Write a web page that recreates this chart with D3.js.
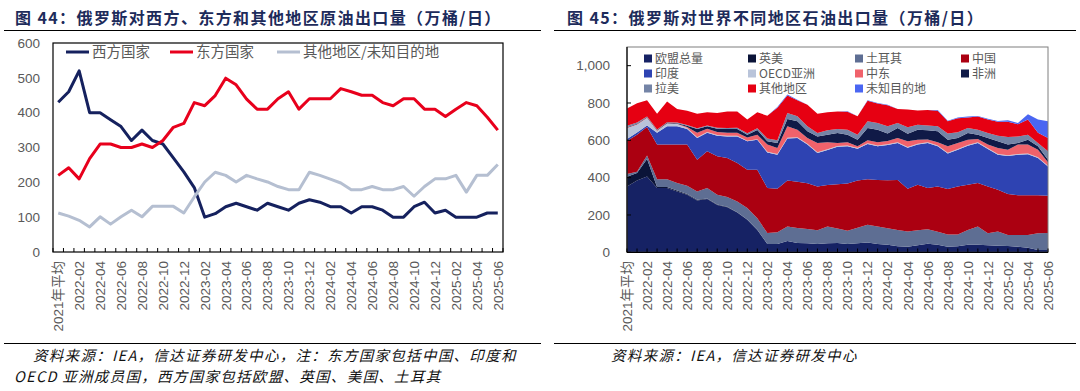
<!DOCTYPE html>
<html>
<head>
<meta charset="utf-8">
<script src="https://cdn.jsdelivr.net/npm/d3@7"></script>
<style>
  body { margin: 0; background: #fff; }
  svg text { font-family: "Liberation Sans", "Noto Sans CJK SC", sans-serif; }
</style>
</head>
<body>
<script>
// x categories (same for both charts)
const months = ["2021年平均",
  "2022-01","2022-02","2022-03","2022-04","2022-05","2022-06","2022-07","2022-08","2022-09","2022-10","2022-11","2022-12",
  "2023-01","2023-02","2023-03","2023-04","2023-05","2023-06","2023-07","2023-08","2023-09","2023-10","2023-11","2023-12",
  "2024-01","2024-02","2024-03","2024-04","2024-05","2024-06","2024-07","2024-08","2024-09","2024-10","2024-11","2024-12",
  "2025-01","2025-02","2025-03","2025-04","2025-05","2025-06"];

// chart 44: crude exports by direction
const west  = [430,460,520,400,400,380,360,320,350,320,310,270,230,185,100,110,130,140,130,120,140,130,120,140,150,143,130,130,112,130,130,120,100,100,130,143,112,120,100,100,100,112,112];
const east  = [220,242,210,268,310,310,300,300,310,300,320,358,369,429,420,449,499,480,439,410,410,440,460,410,440,440,440,469,460,450,450,429,420,440,440,410,410,389,410,429,420,387,350];
const other = [112,103,91,72,101,80,101,120,101,131,131,131,112,158,201,229,220,201,220,210,201,188,179,179,229,220,209,198,179,179,188,179,179,188,160,188,210,210,220,172,220,220,251];

// chart 45: oil exports by region (stacked, bottom to top)
const eu      = [353,385,406,345,344,326,308,278,285,254,242,213,174,120,45,45,60,50,48,45,48,50,45,48,52,45,40,32,30,38,46,40,30,32,40,40,38,35,34,30,25,12,12];
const ukus    = [52,40,94,5,6,5,4,3,3,2,2,2,2,1,0,0,0,0,0,0,0,0,0,0,0,0,0,0,0,0,0,0,0,0,0,0,0,0,0,0,0,0,0];
const turkey  = [15,7,18,42,42,40,44,45,56,52,52,57,61,62,58,63,78,80,77,73,90,78,71,84,95,93,89,88,81,80,78,70,65,63,80,98,64,76,59,63,68,90,92];
const china   = [177,198,153,185,185,206,221,170,197,206,209,206,205,259,242,232,247,248,245,234,222,237,252,253,245,250,257,268,229,244,220,243,244,258,242,233,251,224,220,213,213,204,199];
const india   = [10,12,9,63,98,98,83,116,99,111,116,143,153,161,190,183,225,234,207,180,188,200,200,170,188,180,189,198,220,215,242,215,191,197,209,215,200,188,203,217,220,199,157];
const oecdAsia= [58,42,40,10,15,12,6,4,4,3,3,3,3,3,4,4,4,4,4,4,4,4,4,4,4,4,4,4,4,4,4,4,4,4,4,4,4,4,4,4,4,4,4];
const mideast = [2,2,2,2,2,2,6,24,18,17,16,16,17,24,38,32,61,41,31,50,37,17,17,9,16,18,18,22,31,22,15,17,34,32,28,17,20,32,30,50,47,41,18];
const africa  = [3,3,3,3,3,3,6,20,14,17,20,20,15,25,18,27,39,45,36,35,41,53,41,35,66,67,39,54,40,54,49,59,35,26,36,23,35,36,27,9,26,18,14];
const latam   = [8,6,3,3,2,3,4,5,4,5,6,8,8,10,15,14,33,27,27,18,24,22,27,27,36,36,39,27,35,27,25,27,33,31,27,27,27,30,41,35,27,18,45];
const others  = [92,103,87,85,111,73,77,78,70,80,89,87,73,85,122,175,93,86,116,104,96,93,96,99,110,104,113,75,95,76,83,83,66,75,56,70,73,75,82,65,82,54,71];
const unknown = [0,0,0,0,0,0,0,0,0,0,0,0,0,0,0,4,5,3,0,0,0,0,3,0,3,3,3,0,0,0,0,5,3,4,5,3,4,3,8,7,28,72,90];

const leftLegend = ["西方国家","东方国家","其他地区/未知目的地"];
const rightKeys  = ["欧盟总量","英美","土耳其","中国","印度","OECD亚洲","中东","非洲","拉美","其他地区","未知目的地"];
const rightColors= ["#162264","#0b1438","#5e6e93","#ab0011","#2e43b2","#b9c4da","#f0626b","#101a47","#7484a6","#e60012","#4a66f2"];

let grey = "#595959";

let viz = d3.select("body").append("svg")
    .attr("width", 1080)
    .attr("height", 391);

// titles + rules
function title(x, txt){
  viz.append("text")
     .attr("x", x).attr("y", 24)
     .attr("font-size", 16).attr("font-weight", "bold")
     .attr("letter-spacing", 1.4)
     .style("font-family", "'Noto Sans CJK SC', sans-serif")
     .attr("fill", "#1d2b5b")
     .text(txt);
}
title(15, "图 44：俄罗斯对西方、东方和其他地区原油出口量（万桶/日）");
title(567, "图 45：俄罗斯对世界不同地区石油出口量（万桶/日）");

function rule(x1, x2, y){
  viz.append("line").attr("x1", x1).attr("x2", x2).attr("y1", y).attr("y2", y)
     .attr("stroke", "#000").attr("stroke-width", 1.2);
}
rule(4, 541, 30.5); rule(554, 1076, 30.5);
rule(4, 541, 343.5); rule(554, 1076, 343.5);

// sources
function source(x, y, txt){
  viz.append("text").attr("x", x).attr("y", y)
     .attr("font-size", 14.5).attr("font-style", "italic")
     .attr("letter-spacing", 1.3)
     .style("font-family", "'Noto Sans CJK SC', sans-serif")
     .attr("fill", "#111").text(txt);
}
source(33, 361, "资料来源：IEA，信达证券研发中心，注：东方国家包括中国、印度和");
source(14, 382, "OECD 亚洲成员国，西方国家包括欧盟、英国、美国、土耳其");
source(611, 361, "资料来源：IEA，信达证券研发中心");

// ---------- left chart ----------
let xL = d3.scaleBand().domain(months).range([53, 503]);
let yL = d3.scaleLinear().domain([0, 600]).range([252, 43]);
let left = viz.append("g");

left.append("rect").attr("x", 53).attr("y", 43).attr("width", 450).attr("height", 209)
    .attr("fill", "none").attr("stroke", "#000").attr("stroke-width", 1.2);

// tick marks at category boundaries
let bounds = months.map(m => xL(m)).concat([503]);
left.selectAll(".tkL").data(bounds).enter().append("line")
    .attr("x1", d => d).attr("x2", d => d).attr("y1", 252).attr("y2", 248)
    .attr("stroke", "#000");

left.selectAll(".ylab").data(yL.ticks(6)).enter().append("text")
    .attr("x", 40).attr("y", d => yL(d)).attr("dy", "0.35em")
    .attr("text-anchor", "end").attr("font-size", 13.5).attr("fill", grey)
    .text(d => d);

left.selectAll(".xlab").data(months.filter((m, i) => i % 2 == 0)).enter().append("text")
    .attr("transform", d => "translate(" + (xL(d) + xL.bandwidth()/2) + ",261) rotate(-90)")
    .attr("dy", "0.36em").attr("text-anchor", "end")
    .attr("font-size", 13.5).attr("fill", grey)
    .text(d => d);

let lineL = d3.line()
    .x((d, i) => xL(months[i]) + xL.bandwidth()/2)
    .y(d => yL(d));

let leftSeries = [west, east, other];
let leftColors = ["#15215e", "#e8001c", "#b5bfd1"];
leftSeries.forEach(function(s, k){
  left.append("path").attr("d", lineL(s))
      .attr("fill", "none").attr("stroke", leftColors[k])
      .attr("stroke-width", 3).attr("stroke-linejoin", "round");
});

// legend
let legX = [66, 170, 277];
leftLegend.forEach(function(name, k){
  left.append("line").attr("x1", legX[k]).attr("x2", legX[k] + 23)
      .attr("y1", 52).attr("y2", 52)
      .attr("stroke", leftColors[k]).attr("stroke-width", 3);
  left.append("text").attr("x", legX[k] + 26).attr("y", 52).attr("dy", "0.35em")
      .attr("font-size", 14.5).attr("fill", grey)
      .style("font-family", "'Noto Sans CJK SC', sans-serif")
      .text(name);
});

// ---------- right chart ----------
let xR = d3.scalePoint().domain(months).range([627, 1048]);
let yR = d3.scaleLinear().domain([0, 1100]).range([252.3, 47]);
let right = viz.append("g");

let rightSeries = [eu, ukus, turkey, china, india, oecdAsia, mideast, africa, latam, others, unknown];
let table = months.map(function(m, i){
  let row = {month: m};
  rightKeys.forEach((k, j) => row[k] = rightSeries[j][i]);
  return row;
});
let stacked = d3.stack().keys(rightKeys)(table);

let area = d3.area()
    .x(d => xR(d.data.month))
    .y0(d => yR(d[0]))
    .y1(d => yR(d[1]));

right.selectAll(".layer").data(stacked).enter().append("path")
    .attr("d", area)
    .attr("fill", (d, i) => rightColors[i]);

right.append("rect").attr("x", 627).attr("y", 47).attr("width", 421).attr("height", 205.3)
    .attr("fill", "none").attr("stroke", "#7f7f7f").attr("stroke-width", 1);
right.append("line").attr("x1", 627).attr("x2", 627).attr("y1", 47).attr("y2", 252.3)
    .attr("stroke", "#000").attr("stroke-width", 1.2);
right.append("line").attr("x1", 627).attr("x2", 1048).attr("y1", 252.3).attr("y2", 252.3)
    .attr("stroke", "#000").attr("stroke-width", 1.2);

right.selectAll(".tkR").data(months).enter().append("line")
    .attr("x1", d => xR(d)).attr("x2", d => xR(d)).attr("y1", 252.3).attr("y2", 248.5)
    .attr("stroke", "#000");

let yTicks = d3.range(0, 1001, 200);
right.selectAll(".ytk").data(yTicks).enter().append("line")
    .attr("x1", 627).attr("x2", 631).attr("y1", d => yR(d)).attr("y2", d => yR(d))
    .attr("stroke", "#000");
right.selectAll(".ylabR").data(yTicks).enter().append("text")
    .attr("x", 610).attr("y", d => yR(d)).attr("dy", "0.35em")
    .attr("text-anchor", "end").attr("font-size", 13.5).attr("fill", grey)
    .text(d => d3.format(",")(d));

right.selectAll(".xlabR").data(months.filter((m, i) => i % 2 == 0)).enter().append("text")
    .attr("transform", d => "translate(" + xR(d) + ",261) rotate(-90)")
    .attr("dy", "0.36em").attr("text-anchor", "end")
    .attr("font-size", 13.5).attr("fill", grey)
    .text(d => d);

// legend 4 columns x 3 rows
let colX = [644, 748, 855, 961];
let rowY = [58.5, 73.5, 88.5];
rightKeys.forEach(function(name, k){
  let cx = colX[k % 4], cy = rowY[Math.floor(k / 4)];
  right.append("rect").attr("x", cx).attr("y", cy - 4).attr("width", 8).attr("height", 8)
       .attr("fill", rightColors[k]);
  right.append("text").attr("x", cx + 11).attr("y", cy).attr("dy", "0.36em")
       .attr("font-size", 12).attr("fill", grey)
       .style("font-family", "'Noto Sans CJK SC', sans-serif")
       .text(name);
});
</script>
</body>
</html>
